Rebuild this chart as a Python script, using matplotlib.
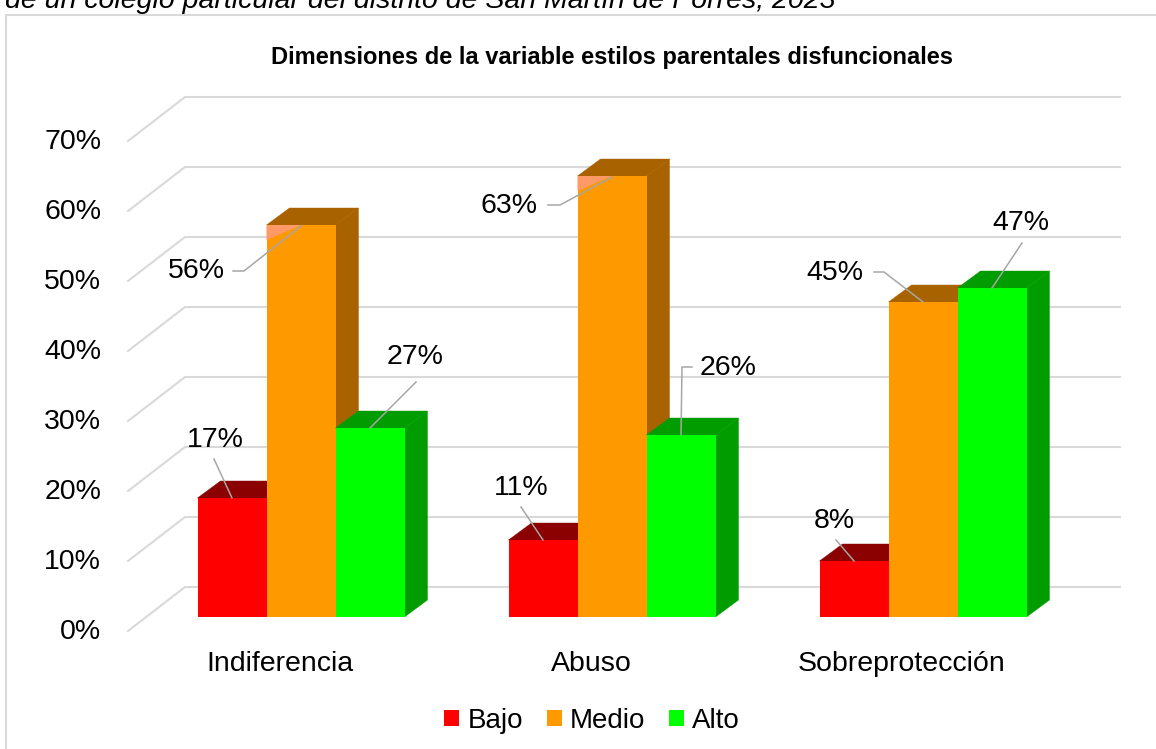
import numpy as np
import matplotlib.pyplot as plt
from matplotlib.patches import Polygon, Patch

plt.rcParams['font.family'] = ['Liberation Sans', 'DejaVu Sans']

categorias = ['Indiferencia', 'Abuso', 'Sobreprotección']
niveles = ['Bajo', 'Medio', 'Alto']
bajo = [17, 11, 8]
medio = [56, 63, 45]
alto = [27, 26, 47]
ticks = [0, 10, 20, 30, 40, 50, 60, 70]

titulo = 'Dimensiones de la variable estilos parentales disfuncionales'
subtitulo = 'de un colegio particular del distrito de San Martín de Porres, 2023'

col_frente = ['#FF0000', '#FF9900', '#00FF00']
col_oscuro = ['#8B0000', '#A86200', '#009C00']

# pixel layout of the 3D look (figure is 1156x749 px)
W, H = 1156, 749
X0, S = 301, 311   # px of first group centre, px per group
Y0, K = 617, 7     # px of 0 %, px per 1 %


def px2x(px):
    return (px - X0) / S


def py2y(py):
    return (Y0 - py) / K


fig = plt.figure(figsize=(W / 100, H / 100), dpi=100)
ax = fig.add_axes([0, 0, 1, 1])
ax.set_xlim(px2x(0), px2x(W))
ax.set_ylim(py2y(H), py2y(0))
ax.axis('off')

bw = 69 / S
ddx, ddy = 23 / S, 17 / K
muro_dy = 30 / K
diag_dx, diag_dy = 57 / S, 44 / K
muro_izq, muro_der = px2x(185), px2x(1120)

# marco y texto cortado arriba
ax.plot([px2x(6), px2x(6), px2x(W)], [py2y(H), py2y(15), py2y(15)],
        color='#D9D9D9', lw=1.5, zorder=0)
ax.text(px2x(5), py2y(8), subtitulo, style='italic', fontsize=20.5,
        va='baseline', ha='left')
ax.text(px2x(612), py2y(57), titulo, fontsize=17, fontweight='bold',
        ha='center', va='center')

# rejilla en perspectiva
for t in ticks:
    yb = t + muro_dy
    ax.plot([muro_izq - diag_dx, muro_izq, muro_der], [yb - diag_dy, yb, yb],
            color='#D9D9D9', lw=1.5, zorder=1)
    ax.text(px2x(101), t - 2.2, f'{t}%', ha='right', va='center', fontsize=20.5)

series = [bajo, medio, alto]

# label centre offsets and leader lines, px relative to bar top-front centre
etq_off = [[(-17, -58), (-22, -52), (-20, -40)],
           [(-105, 46), (-103, 30), (-88, -29)],
           [(45, -71), (47, -67), (29, -65)]]
guias = [[[(-18, -39), (0, 0)], [(-22, -33), (0, 0)], [(-18, -21), (0, 0)]],
         [[(-68, 46), (-57, 46), (0, 1)], [(-64, 29), (-52, 29), (0, 1)],
          [(-49, -30), (-39, -30), (0, 0)]],
         [[(46, -46), (0, 0)], [(11, -68), (1, -68), (0, 0)], [(30, -45), (0, 0)]]]
salmon = {(1, 0): 35, (1, 1): 34}

for g in range(len(categorias)):
    for s, vals in enumerate(series):
        v = vals[g]
        x = g - 1.5 * bw + s * bw
        ax.add_patch(Polygon([(x + bw, 0), (x + bw + ddx, ddy), (x + bw + ddx, v + ddy), (x + bw, v)],
                             closed=True, facecolor=col_oscuro[s], edgecolor=col_oscuro[s], lw=0.3, zorder=2))
        ax.add_patch(Polygon([(x, v), (x + ddx, v + ddy), (x + bw + ddx, v + ddy), (x + bw, v)],
                             closed=True, facecolor=col_oscuro[s], edgecolor=col_oscuro[s], lw=0.3, zorder=2))
        ax.bar(x, v, width=bw, align='edge', color=col_frente[s], lw=0, zorder=2)
        if (s, g) in salmon:
            w = salmon[(s, g)] / S
            ax.add_patch(Polygon([(x, v), (x + w, v), (x, v - 15 / K)], closed=True,
                                 facecolor='#FF9966', lw=0, zorder=2.5))
        cx = x + bw / 2
        ox, oy = etq_off[s][g]
        ax.text(cx + ox / S, v - oy / K, f'{v}%', ha='center', va='center',
                fontsize=20.5, zorder=4)
        pts = guias[s][g]
        ax.plot([cx + p[0] / S for p in pts], [v - p[1] / K for p in pts],
                color='#A6A6A6', lw=1.1, zorder=3)

for g, cat in enumerate(categorias):
    ax.text(g - 21 / S, py2y(664), cat, ha='center', va='center', fontsize=20.5)

handles = [Patch(facecolor=c, edgecolor='none') for c in col_frente]
fig.legend(handles, niveles, loc='center', bbox_to_anchor=(592 / W, 1 - 721 / H),
           ncol=3, frameon=False, fontsize=20, handlelength=0.54, handleheight=0.5,
           handletextpad=0.3, columnspacing=0.85)

fig.savefig('out.png', dpi=100)
